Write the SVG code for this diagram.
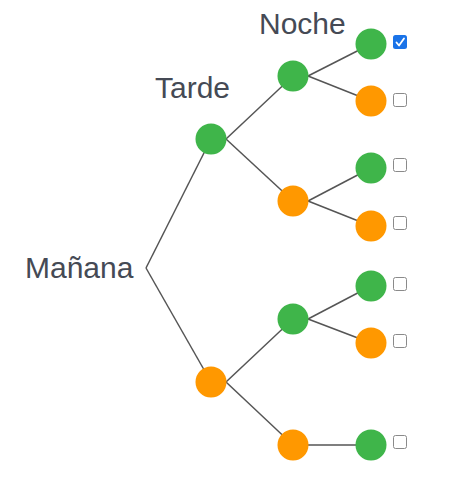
<svg xmlns="http://www.w3.org/2000/svg" width="453" height="503" viewBox="0 0 453 503">
<style>
.lbl{font-family:"Liberation Sans",Arial,sans-serif;font-size:30px;fill:#454a55}
.g{fill:#3fb54a}
.o{fill:#ff9800}
#connectors line{stroke:#555;stroke-width:1.5}
.cb{fill:#fff;stroke:#8a8a8a;stroke-width:1}
.cbc{fill:#1a73e8}
</style>
<rect width="453" height="503" fill="#fff"/>
<g id="labels">
<text class="lbl" x="25" y="278">Mañana</text>
<text class="lbl" x="155" y="98">Tarde</text>
<text class="lbl" x="259" y="34">Noche</text>
</g>
<g id="connectors">
<line x1="146" y1="268" x2="211" y2="139"/>
<line x1="146" y1="268" x2="211" y2="382"/>
<line x1="226" y1="139" x2="293" y2="76"/>
<line x1="226" y1="139" x2="293" y2="201"/>
<line x1="226" y1="382" x2="293" y2="319"/>
<line x1="226" y1="382" x2="293" y2="445"/>
<line x1="308" y1="76" x2="371" y2="44"/>
<line x1="308" y1="76" x2="371" y2="101"/>
<line x1="308" y1="201" x2="371" y2="168"/>
<line x1="308" y1="201" x2="371" y2="226"/>
<line x1="308" y1="319" x2="371" y2="286"/>
<line x1="308" y1="319" x2="371" y2="343"/>
<line x1="308" y1="445" x2="371" y2="445"/>
</g>
<g id="n-tarde-1"><circle class="g" cx="211" cy="139" r="15.5"/></g>
<g id="n-tarde-2"><circle class="o" cx="211" cy="382" r="15.5"/></g>
<g id="n-noche-1"><circle class="g" cx="293" cy="76" r="15.5"/></g>
<g id="n-noche-2"><circle class="o" cx="293" cy="201" r="15.5"/></g>
<g id="n-noche-3"><circle class="g" cx="293" cy="319" r="15.5"/></g>
<g id="n-noche-4"><circle class="o" cx="293" cy="445" r="15.5"/></g>
<g id="leaf-1"><circle class="g" cx="371" cy="44" r="15.5"/>
<rect class="cbc" x="393" y="35" width="14" height="14" rx="2.5"/>
<path d="M396.5 42.5 L399 45.5 L404 38.5" fill="none" stroke="#fff" stroke-width="1.8" stroke-linecap="round" stroke-linejoin="round"/></g>
<g id="leaf-2"><circle class="o" cx="371" cy="101" r="15.5"/><rect class="cb" x="393.5" y="93.5" width="13" height="13" rx="2"/></g>
<g id="leaf-3"><circle class="g" cx="371" cy="168" r="15.5"/><rect class="cb" x="393.5" y="158.5" width="13" height="13" rx="2"/></g>
<g id="leaf-4"><circle class="o" cx="371" cy="226" r="15.5"/><rect class="cb" x="393.5" y="216.5" width="13" height="13" rx="2"/></g>
<g id="leaf-5"><circle class="g" cx="371" cy="286" r="15.5"/><rect class="cb" x="393.5" y="277.5" width="13" height="13" rx="2"/></g>
<g id="leaf-6"><circle class="o" cx="371" cy="343" r="15.5"/><rect class="cb" x="393.5" y="334.5" width="13" height="13" rx="2"/></g>
<g id="leaf-7"><circle class="g" cx="371" cy="445" r="15.5"/><rect class="cb" x="393.5" y="435.5" width="13" height="13" rx="2"/></g>
</svg>
